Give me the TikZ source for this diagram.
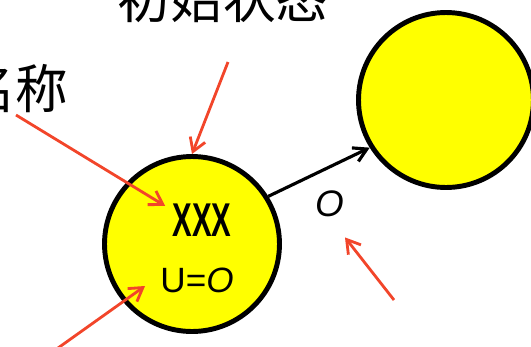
\documentclass[tikz,border=0pt]{standalone}
\usepackage{fontspec}
\setmainfont{Liberation Sans}
\newfontfamily\cjk{Noto Sans CJK SC}
\newfontfamily\narrowsans[FakeStretch=0.62]{Liberation Sans}
\usetikzlibrary{arrows.meta}
\definecolor{stateyellow}{HTML}{FFFF00}
\definecolor{pointer}{HTML}{F2452A}

\begin{document}
\begin{tikzpicture}[
    x=0.02cm, y=-0.02cm,
    state/.style={draw, circle, line width=2.8pt, fill=stateyellow, minimum size=3.5cm, inner sep=0pt},
    callout/.style={draw=pointer, line width=1.6pt, -{Straight Barb[length=0.26cm, width=0.32cm, line width=1.6pt]}},
    move/.style={draw, line width=1.8pt, -{Straight Barb[length=0.26cm, width=0.3cm, line width=1.8pt]}},
    cjklabel/.style={font=\cjk\fontsize{30pt}{32pt}\selectfont, inner sep=0pt}
]
\useasboundingbox (0,0) rectangle (531,346);
\clip (0,0) rectangle (531,346);

% states
\node[state] (start) at (192,244) {};
\node[state] (next) at (446,100) {};
\node[font=\narrowsans\bfseries\fontsize{27pt}{29pt}\selectfont, inner sep=0pt] (name) at (202,220) {XXX};
\node[font=\fontsize{20pt}{22pt}\selectfont, inner sep=0pt] (value) at (197,280) {U=\textit{O}};

% transition
\draw[move] (start.32) -- (next.212);
\node[font=\fontsize{21pt}{23pt}\selectfont\itshape, inner sep=0pt] (out) at (330,204) {O};

% annotations (cut off by the frame)
\node[cjklabel] (title) at (223,-2) {初始状态};
\node[cjklabel] (nametag) at (16,88) {名称};

\coordinate (tipA) at (228,62);
\coordinate (tipB) at (16,115);
\coordinate (tipC) at (58,348);
\coordinate (tipD) at (394,300);
\draw[callout] (tipA) -- (start.north);
\draw[callout] (tipB) -- ([xshift=-4pt,yshift=8pt]name.west);
\draw[callout] (tipC) -- ([xshift=-0.3cm,yshift=-0.12cm]value.west);
\draw[callout] (tipD) -- ([xshift=0.3cm,yshift=-0.4cm]out.south);
\end{tikzpicture}
\end{document}
